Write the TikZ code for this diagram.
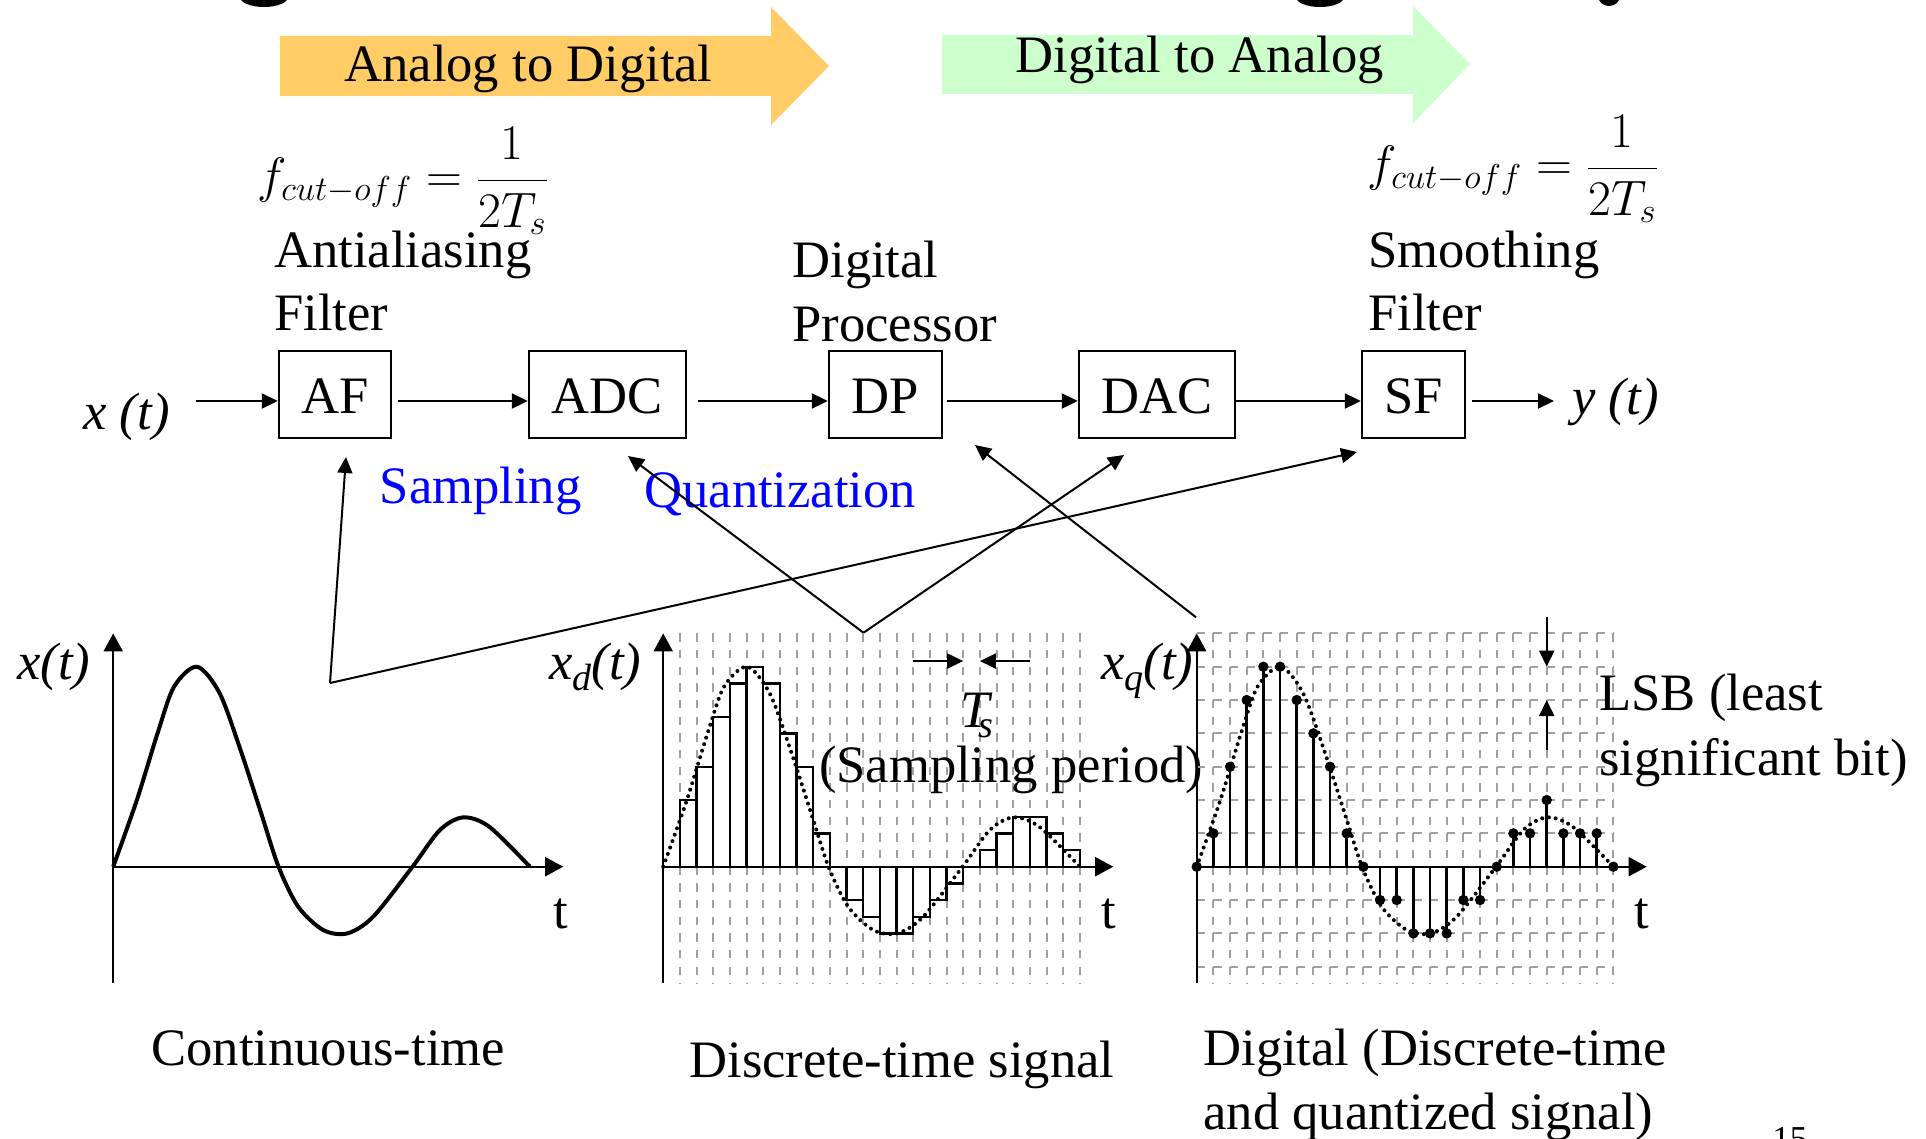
\documentclass[tikz,border=0pt]{standalone}
\usepackage{fontspec}
\setmainfont{Liberation Serif}
\usetikzlibrary{arrows.meta,calc}
\definecolor{orangeA}{RGB}{255,204,102}
\definecolor{greenA}{RGB}{204,255,204}
\definecolor{gridgray}{RGB}{160,160,160}
\newcommand{\mainsz}{\fontsize{26.3}{31.5}\selectfont}
\newcommand{\subsz}{\fontsize{19}{19}\selectfont}
\begin{document}
\begin{tikzpicture}[x=0.5pt,y=-0.5pt,
  txt/.style={inner sep=0pt, font=\mainsz, anchor=base west},
  blk/.style={draw, line width=1.2pt, inner sep=0pt, font=\mainsz, text height=18.5pt, text depth=0pt, minimum height=43.5pt},
  arr/.style={line width=1pt, -{Triangle[length=8pt,width=7.5pt]}},
  axarr/.style={line width=1pt, -{Triangle[length=9pt,width=9.5pt]}},
  gridl/.style={gridgray, line width=1pt, dash pattern=on 4.2pt off 4.13pt},
  dotcurve/.style={line width=2pt, line cap=round, dash pattern=on 0pt off 3.4pt},
  stem/.style={line width=1.3pt},
  bar/.style={line width=1.2pt}]
\useasboundingbox (0,0) rectangle (1926,1139);
\fill[white] (0,0) rectangle (1926,1139);

% title fragments at the top edge
\fill (264,-3) ellipse [x radius=24, y radius=10];
\fill (1320,-3) ellipse [x radius=24, y radius=10];
\fill (1609,-4) ellipse [x radius=11, y radius=10];

% big arrows
\fill[orangeA] (280,36) -- (771,36) -- (771,7) -- (829,66) -- (771,125) -- (771,96) -- (280,96) -- cycle;
\node[txt] (a2d) at (344,82) {Analog to Digital};
\fill[greenA] (942,35) -- (1413,35) -- (1413,6) -- (1470,64) -- (1413,123) -- (1413,94) -- (942,94) -- cycle;
\node[txt] (d2a) at (1015,73) {Digital to Analog};

% formulas and labels
\node[txt] (fl) at (257,193) {$f_{cut-off}={\displaystyle\frac{1}{2T_s}}$};
\node[txt] (fr) at (1367,181) {$f_{cut-off}={\displaystyle\frac{1}{2T_s}}$};
\node[txt] (aa1) at (274,267) {Antialiasing};
\node[txt] (aa2) at (274,330) {Filter};
\node[txt] (dp1) at (792,278) {Digital};
\node[txt] (dp2) at (792,341) {Processor};
\node[txt] (sf1) at (1368,267) {Smoothing};
\node[txt] (sf2) at (1368,330) {Filter};

% blocks
\node[blk, minimum width=56pt] (AF) at (335,394.5) {AF};
\node[blk, minimum width=78.5pt] (ADC) at (607.5,394.5) {ADC};
\node[blk, minimum width=56.5pt] (DP) at (885.5,394.5) {DP};
\node[blk, minimum width=78pt] (DAC) at (1157,394.5) {DAC};
\node[blk, minimum width=51.5pt] (SF) at (1413.5,394.5) {SF};

\node[txt, font=\mainsz\itshape] (xt) at (83,429) {x (t)};
\node[txt, font=\mainsz\itshape] (yt) at (1572,414) {y (t)};
\coordinate (xin) at (196,401);
\coordinate (yout) at (1554,401);
\draw[arr] (xin) -- (xin -| AF.west);
\draw[arr] ($(AF.east|-xin)+(6,0)$) -- (ADC.west|-xin);
\draw[arr] ($(ADC.east|-xin)+(11,0)$) -- (DP.west|-xin);
\draw[arr] ($(DP.east|-xin)+(4,0)$) -- (DAC.west|-xin);
\draw[arr] (DAC.east|-xin) -- (SF.west|-xin);
\draw[arr] ($(SF.east|-xin)+(6,0)$) -- (yout);

\node[txt, text=blue] (samp) at (379.5,503) {Sampling};
\node[txt, text=blue] (quant) at (644,507) {Quantization};

% pointer lines
\coordinate (cA) at (330,683);
\coordinate (cB) at (863.5,632.7);
\coordinate (cC) at (1196,617.3);
\coordinate (tAF) at (346,457);
\coordinate (tSF) at (1357,452);
\coordinate (tADC) at (628,456);
\coordinate (tDAC) at (1124,455);
\coordinate (tDP) at (975,445);
\draw[arr] (cA) -- (tAF);
\draw[arr] (cA) -- (tSF);
\draw[arr] (cB) -- (tADC);
\draw[arr] (cB) -- (tDAC);
\draw[arr] (cC) -- (tDP);

\def\curvepts{(0,0) (1.42,4) (2.66,8) (3.65,10.8) (5.03,12) (6.39,10.4) (7.64,7) (8.88,3.2) (9.92,0) (11.1,-2.4) (12.6,-3.8) (14.05,-4) (15.6,-3) (17.96,0) (19.6,2.2) (21,2.96) (22.56,2.4) (25,0)}

% plot 1: continuous
\begin{scope}[shift={(113.2,866.7)}, x=8.3333pt, y=8.3333pt]
  \draw[axarr] (0,-7) -- (0,14);
  \draw[axarr] (0,0) -- (27,0);
  \draw[line width=2pt, line join=round] plot[smooth] coordinates {\curvepts};
\end{scope}
\node[txt, font=\mainsz\itshape] (lx) at (17,679) {x(t)};
\node[txt] (lt1) at (553,928) {t};

% plot 2: discrete-time
\begin{scope}[shift={(663.2,866.7)}, x=8.3333pt, y=8.3333pt]
  \foreach \i in {1,...,25} \draw[gridl] (\i,14) -- (\i,-7);
  \draw[axarr] (0,-7) -- (0,14);
  \draw[axarr] (0,0) -- (27,0);
  \foreach \i/\h in {1/4,2/6,3/9,4/11,5/12,6/11,7/8,8/6,9/2,11/-2,12/-3,13/-4,14/-4,15/-3,16/-2,17/-1,19/1,20/2,21/3,22/3,23/2,24/1}
    \draw[bar] (\i,0) rectangle (\i+1,\h);
  \draw[dotcurve] plot[smooth] coordinates {\curvepts};
  \draw[arr] (15,12.34) -- (18,12.34);
  \draw[arr] (22,12.34) -- (19,12.34);
\end{scope}
\node[txt, font=\mainsz\itshape] (lxd) at (549,679) {x\raisebox{-0.22em}{\subsz d}(t)};
\node[txt] (lt2) at (1100.7,928) {t};
\node[txt, font=\mainsz\itshape] (ts) at (960,727) {T\kern-0.22em\raisebox{-0.2em}{\subsz s}};
\node[txt] (sp) at (818.6,782) {(Sampling period)};

% plot 3: digital
\begin{scope}[shift={(1196.7,866.7)}, x=8.3333pt, y=8.3333pt]
  \foreach \i in {1,...,25} \draw[gridl] (\i,14) -- (\i,-7);
  \foreach \j in {14,12,10,8,6,4,2,-2,-4,-6} \draw[gridl] (0,\j) -- (25,\j);
  \draw[axarr] (0,-7) -- (0,14);
  \draw[axarr] (0,0) -- (27,0);
  \draw[dotcurve] plot[smooth] coordinates {\curvepts};
  \foreach \i/\q in {0/0,1/2,2/6,3/10,4/12,5/12,6/10,7/8,8/6,9/2,10/0,11/-2,12/-2,13/-4,14/-4,15/-4,16/-2,17/-2,18/0,19/2,20/2,21/4,22/2,23/2,24/2,25/0}
    {\draw[stem] (\i,0) -- (\i,\q); \fill (\i,\q) circle (2.6pt);}
  \draw[arr] (21,15) -- (21,12);
  \draw[arr] (21,7) -- (21,10);
\end{scope}
\node[txt, font=\mainsz\itshape] (lxq) at (1101,679) {x\raisebox{-0.22em}{\subsz q}(t)};
\node[txt] (lt3) at (1634,928) {t};
\node[txt] (lsb1) at (1599,710) {LSB (least};
\node[txt] (lsb2) at (1599,775) {significant bit)};

% captions
\node[txt] (c1) at (151,1065) {Continuous-time};
\node[txt] (c2) at (689,1077) {Discrete-time signal};
\node[txt] (c3a) at (1203,1065) {Digital (Discrete-time};
\node[txt] (c3b) at (1203,1129) {and quantized signal)};
\node[inner sep=0pt, anchor=north west, font=\fontsize{17.5}{17.5}\selectfont] (pg) at (1772,1127) {15};
\end{tikzpicture}
\end{document}
